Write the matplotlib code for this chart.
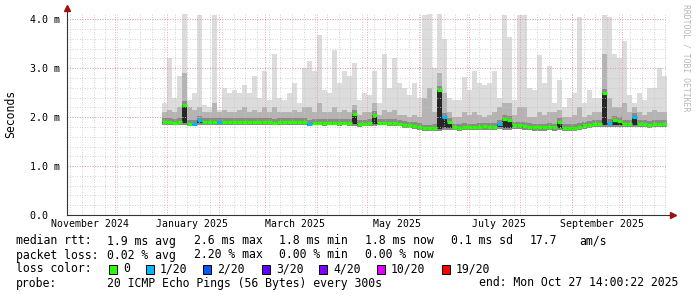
import matplotlib
matplotlib.use("Agg")
import matplotlib.pyplot as plt
import matplotlib.patches as mpatches
import numpy as np
import pandas as pd

# --- data (values in ms) ---
bin_start = pd.date_range("2024-12-29", periods=101, freq="3D")

top_ms = [2.28, 3.20, 2.40, 2.85, 4.10, 2.35, 2.50, 4.08, 2.25, 2.20,
          4.08, 2.15, 2.60, 2.50, 2.55, 2.50, 2.65, 2.50, 2.85, 2.40,
          2.95, 2.35, 3.30, 2.40, 2.35, 2.50, 2.70, 2.30, 3.00, 3.15,
          2.95, 3.67, 2.55, 2.50, 3.37, 2.70, 2.95, 2.85, 3.10, 2.35,
          2.50, 2.45, 2.95, 2.30, 3.30, 2.60, 3.22, 2.70, 2.60, 2.45,
          2.70, 2.40, 4.08, 4.10, 3.00, 4.10, 3.60, 2.40, 2.35, 2.35,
          2.83, 2.55, 2.95, 2.70, 2.65, 2.70, 2.95, 2.40, 4.08, 3.63,
          2.35, 4.08, 4.08, 2.60, 2.55, 3.27, 2.70, 3.05, 2.30, 2.75,
          2.20, 2.40, 2.50, 4.05, 2.30, 2.55, 2.40, 2.40, 4.08, 4.05,
          3.30, 3.20, 3.55, 2.45, 2.30, 2.50, 2.35, 2.60, 2.60, 3.00,
          2.85]

mid_ms = [2.10, 2.15, 2.10, 2.20, 2.90, 2.20, 2.15, 2.20, 2.10, 2.10,
          2.30, 2.10, 2.15, 2.10, 2.10, 2.15, 2.20, 2.10, 2.15, 2.10,
          2.20, 2.10, 2.20, 2.10, 2.10, 2.10, 2.15, 2.10, 2.20, 2.20,
          2.10, 2.30, 2.10, 2.10, 2.20, 2.10, 2.15, 2.10, 2.25, 2.05,
          2.10, 2.10, 2.30, 2.05, 2.15, 2.10, 2.15, 2.05, 2.05, 2.00,
          2.05, 2.00, 2.40, 2.60, 2.10, 2.90, 2.50, 2.10, 2.00, 2.00,
          2.10, 2.05, 2.10, 2.05, 2.00, 2.05, 2.10, 2.20, 2.30, 2.30,
          2.05, 2.20, 2.20, 2.00, 2.00, 2.10, 2.05, 2.10, 2.10, 2.15,
          2.00, 2.00, 2.05, 2.20, 2.00, 2.05, 2.10, 2.10, 3.30, 2.40,
          2.20, 2.20, 2.30, 2.10, 2.20, 2.10, 2.05, 2.10, 2.15, 2.10,
          2.10]

median_ms = [1.90, 1.90, 1.89, 1.91, 2.25, 1.86, 1.86, 1.95, 1.90, 1.90,
             1.90, 1.91, 1.90, 1.90, 1.91, 1.90, 1.90, 1.91, 1.90, 1.90,
             1.91, 1.90, 1.89, 1.90, 1.90, 1.91, 1.90, 1.90, 1.90, 1.86,
             1.88, 1.88, 1.88, 1.89, 1.88, 1.88, 1.88, 1.88, 2.06, 1.86,
             1.87, 1.88, 2.05, 1.89, 1.89, 1.88, 1.88, 1.87, 1.84, 1.83,
             1.82, 1.80, 1.77, 1.77, 1.78, 2.55, 2.00, 1.90, 1.79, 1.78,
             1.80, 1.79, 1.79, 1.80, 1.81, 1.80, 1.80, 1.86, 1.96, 1.95,
             1.83, 1.83, 1.82, 1.80, 1.79, 1.79, 1.79, 1.80, 1.79, 1.90,
             1.78, 1.78, 1.78, 1.80, 1.83, 1.85, 1.86, 1.86, 2.50, 1.88,
             1.95, 1.93, 1.86, 1.86, 2.00, 1.86, 1.86, 1.85, 1.86, 1.86,
             1.86]

low_ms = [1.85, 1.85, 1.84, 1.85, 1.85, 1.81, 1.81, 1.85, 1.85, 1.85,
          1.85, 1.85, 1.84, 1.85, 1.85, 1.84, 1.85, 1.85, 1.84, 1.85,
          1.85, 1.84, 1.84, 1.85, 1.85, 1.84, 1.84, 1.85, 1.84, 1.81,
          1.83, 1.83, 1.82, 1.83, 1.83, 1.82, 1.83, 1.82, 1.82, 1.80,
          1.81, 1.82, 1.82, 1.83, 1.83, 1.82, 1.82, 1.81, 1.78, 1.77,
          1.76, 1.74, 1.71, 1.71, 1.72, 1.72, 1.73, 1.74, 1.73, 1.72,
          1.73, 1.73, 1.73, 1.74, 1.74, 1.73, 1.74, 1.75, 1.74, 1.74,
          1.75, 1.75, 1.74, 1.73, 1.72, 1.72, 1.72, 1.73, 1.72, 1.73,
          1.71, 1.71, 1.72, 1.73, 1.75, 1.78, 1.79, 1.79, 1.79, 1.80,
          1.80, 1.80, 1.79, 1.79, 1.79, 1.79, 1.79, 1.78, 1.79, 1.79,
          1.79]

# bins where 1 of 20 pings was lost
loss_bins = [6, 7, 11, 29, 56, 67, 89, 94]

loss_labels = ["0", "1/20", "2/20", "3/20", "4/20", "10/20", "19/20"]
loss_colors = ["#26ff00", "#00b8ff", "#0059ff", "#5e00ff", "#7e00ff", "#dd00ff", "#ff0000"]

y_ticks = [0, 1, 2, 3, 4]
y_ticklabels = ["0.0  ", "1.0 m", "2.0 m", "3.0 m", "4.0 m"]
x_labels = ["November 2024", "January 2025", "March 2025", "May 2025", "July 2025", "September 2025"]
x_label_pos = pd.to_datetime(["2024-11-15 12:00", "2025-01-16 00:00", "2025-03-19 00:00",
                              "2025-05-19 00:00", "2025-07-19 00:00", "2025-09-19 00:00"])

rtt_stats = ["1.9 ms avg", "2.6 ms max", "1.8 ms min", "1.8 ms now", "0.1 ms sd", "17.7", "am/s"]
loss_stats = ["0.02 % avg", "2.20 % max", "0.00 % min", "0.00 % now"]
probe_text = "20 ICMP Echo Pings (56 Bytes) every 300s"
end_text = "end: Mon Oct 27 14:00:22 2025"

# --- figure ---
W, H = 697, 297
fig = plt.figure(figsize=(W / 100, H / 100), dpi=100)
fig.patch.set_facecolor("white")
ax = fig.add_axes([67 / W, (H - 215) / H, 600 / W, 202 / H])

mono = "DejaVu Sans Mono"
t0 = pd.Timestamp("2024-11-02")
t1 = pd.Timestamp("2025-10-28")
ax.set_xlim(t0, t1)
ax.set_ylim(0, 4.13)

edges = bin_start.append(pd.DatetimeIndex([bin_start[-1] + pd.Timedelta(days=3)]))
def ext(a):
    a = np.asarray(a, dtype=float)
    return np.append(a, a[-1])

low = np.asarray(low_ms)
med = np.asarray(median_ms)
ax.fill_between(edges, ext(low_ms), ext(top_ms), step="post", color="#dcdcdc", lw=0, zorder=1)
ax.fill_between(edges, ext(low_ms), ext(mid_ms), step="post", color="#b4b4b4", lw=0, zorder=1.1)
ax.fill_between(edges, ext(low), ext(med + 0.08), step="post", color="#8a8a8a", lw=0, zorder=1.2)
ax.fill_between(edges, ext(np.minimum(low + 0.04, med)), ext(med), step="post",
                color="#262626", lw=0, zorder=1.3)

# grid (drawn above the smoke like rrdtool)
week_lines = pd.date_range("2024-11-04", "2025-10-27", freq="W-MON")
month_lines = pd.date_range("2024-12-01", "2025-10-01", freq="MS")
for d in week_lines:
    ax.axvline(d, color="#c4c4c4", lw=0.6, ls=(0, (1, 2)), zorder=2)
for v in np.arange(0.2, 4.1, 0.2):
    ax.axhline(v, color="#c4c4c4", lw=0.6, ls=(0, (1, 2)), zorder=2)
for d in month_lines:
    ax.axvline(d, color="#f08a8a", lw=0.6, ls=(0, (1, 2)), zorder=2.1)
for v in y_ticks[1:]:
    ax.axhline(v, color="#f08a8a", lw=0.6, ls=(0, (1, 2)), zorder=2.1)

# median line coloured by loss
colors = [loss_colors[1] if i in loss_bins else loss_colors[0] for i in range(len(median_ms))]
ax.hlines(median_ms, edges[:-1], edges[1:], colors=colors, lw=2.3, zorder=3)

# axes styling
for s in ["top", "right", "left", "bottom"]:
    ax.spines[s].set_visible(False)
ax.set_yticks(y_ticks)
ax.set_yticklabels(y_ticklabels, family=mono, fontsize=7.2)
ax.set_xticks(x_label_pos)
ax.set_xticklabels(x_labels, family=mono, fontsize=7.1)
ax.tick_params(axis="both", length=0, colors="#000000")
ax.tick_params(axis="y", pad=5)
ax.tick_params(axis="x", pad=3)

ax.plot([0, 0], [0, 1.02], color="#333333", lw=0.8, transform=ax.transAxes, clip_on=False, zorder=4)
ax.plot([0, 1.01], [0, 0], color="#333333", lw=0.8, transform=ax.transAxes, clip_on=False, zorder=4)
ax.plot([0], [1.025], marker="^", color="#a01010", markersize=4, transform=ax.transAxes, clip_on=False, zorder=5)
ax.plot([1.01], [0], marker=">", color="#a01010", markersize=4, transform=ax.transAxes, clip_on=False, zorder=5)

fig.text(11 / W, 1 - 114 / H, "Seconds", family=mono, fontsize=8.3,
         rotation=90, ha="center", va="center")
fig.text(686 / W, 1 - 4 / H, "RRDTOOL / TOBI OETIKER", family=mono, fontsize=5.9,
         color="#b8b8b8", rotation=270, ha="center", va="top")

# --- legend block ---
def put(x, y, s):
    fig.text(x / W, 1 - y / H, s, family=mono, fontsize=8.3, ha="left", va="center")

put(16, 241, "median rtt:")
for x, s in zip([107, 194, 279, 365, 451, 530, 579], rtt_stats):
    put(x, 241, s)
put(16, 255, "packet loss:")
for x, s in zip([107, 194, 279, 365], loss_stats):
    put(x, 255, s)
put(16, 269, "loss color:")
box_x = [109, 146, 203, 262, 319, 377, 442]
for bx, lab, c in zip(box_x, loss_labels, loss_colors):
    fig.patches.append(mpatches.Rectangle((bx / W, 1 - 273.5 / H), 8 / W, 9 / H,
                                          transform=fig.transFigure, facecolor=c,
                                          edgecolor="black", lw=0.7))
    put(bx + 14, 269, lab)
put(16, 283, "probe:")
put(107, 283, probe_text)
put(479, 283, end_text)

fig.savefig("out.png", dpi=100)
